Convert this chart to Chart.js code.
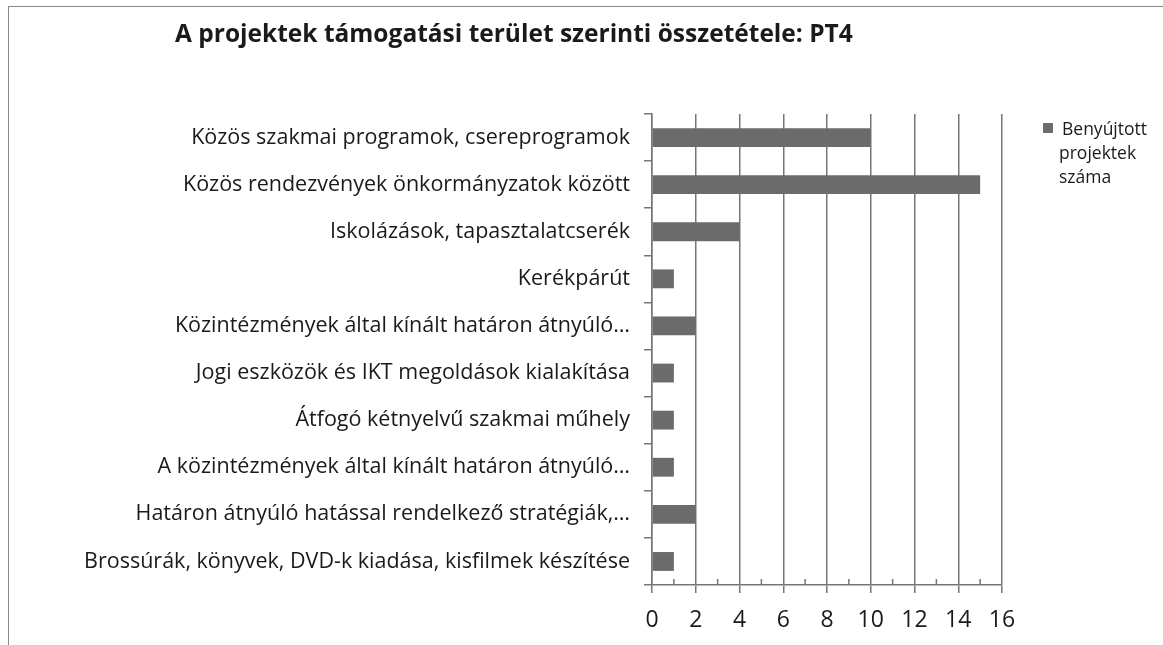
<!DOCTYPE html>
<html>
<head>
<meta charset="utf-8">
<script src="https://cdn.jsdelivr.net/npm/chart.js@4"></script>
<style>
  body { margin: 0; background: #fff; }
  #wrap { position: relative; width: 1163px; height: 645px; }
  #frame { position: absolute; left: 8px; top: 6px; right: 0; bottom: 0; border-top: 1px solid #888; border-left: 1px solid #888; }
  #title { position: absolute; left: 175px; top: 16px; font: bold 24.5px 'Open Sans', sans-serif; color: #1a1a1a; white-space: nowrap; }
  #legend { position: absolute; left: 1043px; top: 116px; font: 17.5px 'Open Sans', sans-serif; color: #1a1a1a; line-height: 24px; }
  #legend .box { display: inline-block; width: 10px; height: 10px; background: #6b6b6b; margin-right: 9px; vertical-align: 2px; }
  #legend .rest { padding-left: 16px; }
</style>
</head>
<body>
<div id="wrap">
  <div id="frame"></div>
  <canvas id="myChart" width="1163" height="645"></canvas>
  <div id="title">A projektek támogatási terület szerinti összetétele: PT4</div>
  <div id="legend"><span class="box"></span>Benyújtott<div class="rest">projektek</div><div class="rest">száma</div></div>
</div>
<script>
// Adatok
const kategoriak = [
  'Közös szakmai programok, csereprogramok',
  'Közös rendezvények önkormányzatok között',
  'Iskolázások, tapasztalatcserék',
  'Kerékpárút',
  'Közintézmények által kínált határon átnyúló…',
  'Jogi eszközök és IKT megoldások kialakítása',
  'Átfogó kétnyelvű szakmai műhely',
  'A közintézmények által kínált határon átnyúló…',
  'Határon átnyúló hatással rendelkező stratégiák,…',
  'Brossúrák, könyvek, DVD-k kiadása, kisfilmek készítése'
];
const projektekSzama = [10, 15, 4, 1, 2, 1, 1, 1, 2, 1];
const sorozatNev = 'Benyújtott projektek száma';
const xMax = 16;

// kis osztásjelek a páratlan értékeknél
const kisOsztas = {
  id: 'kisOsztas',
  afterDraw(chart) {
    const x = chart.scales.x;
    const ctx = chart.ctx;
    ctx.save();
    ctx.strokeStyle = '#777';
    ctx.lineWidth = 1.5;
    for (let v = 1; v < xMax; v += 2) {
      const px = x.getPixelForValue(v);
      ctx.beginPath();
      ctx.moveTo(px, x.top - 6);
      ctx.lineTo(px, x.top);
      ctx.stroke();
    }
    ctx.restore();
  }
};

const ctx = document.getElementById('myChart');
new Chart(ctx, {
  type: 'bar',
  data: {
    labels: kategoriak,
    datasets: [{
      label: sorozatNev,
      data: projektekSzama,
      backgroundColor: '#6b6b6b',
      barPercentage: 0.8,
      categoryPercentage: 0.5
    }]
  },
  options: {
    indexAxis: 'y',
    responsive: false,
    animation: false,
    layout: { padding: { top: 114, right: 161, left: 0, bottom: 0 } },
    scales: {
      x: {
        min: 0,
        max: xMax,
        afterFit: function(scale) { scale.height = 60; },
        ticks: {
          stepSize: 2,
          padding: 14,
          color: '#1a1a1a',
          font: { size: 23, family: "'Open Sans', sans-serif" }
        },
        grid: { color: '#777', lineWidth: 1.5, tickLength: 8 },
        border: { color: '#777', width: 1.5 }
      },
      y: {
        afterFit: function(scale) { scale.width = 652; },
        ticks: {
          padding: 14,
          color: '#1a1a1a',
          font: { size: 21.5, family: "'Open Sans', sans-serif" }
        },
        grid: { drawOnChartArea: false, color: '#777', lineWidth: 1.5, tickLength: 8 },
        border: { color: '#777', width: 1.5 }
      }
    },
    plugins: {
      legend: { display: false },
      title: { display: false },
      tooltip: { enabled: false }
    }
  },
  plugins: [kisOsztas]
});
</script>
</body>
</html>
